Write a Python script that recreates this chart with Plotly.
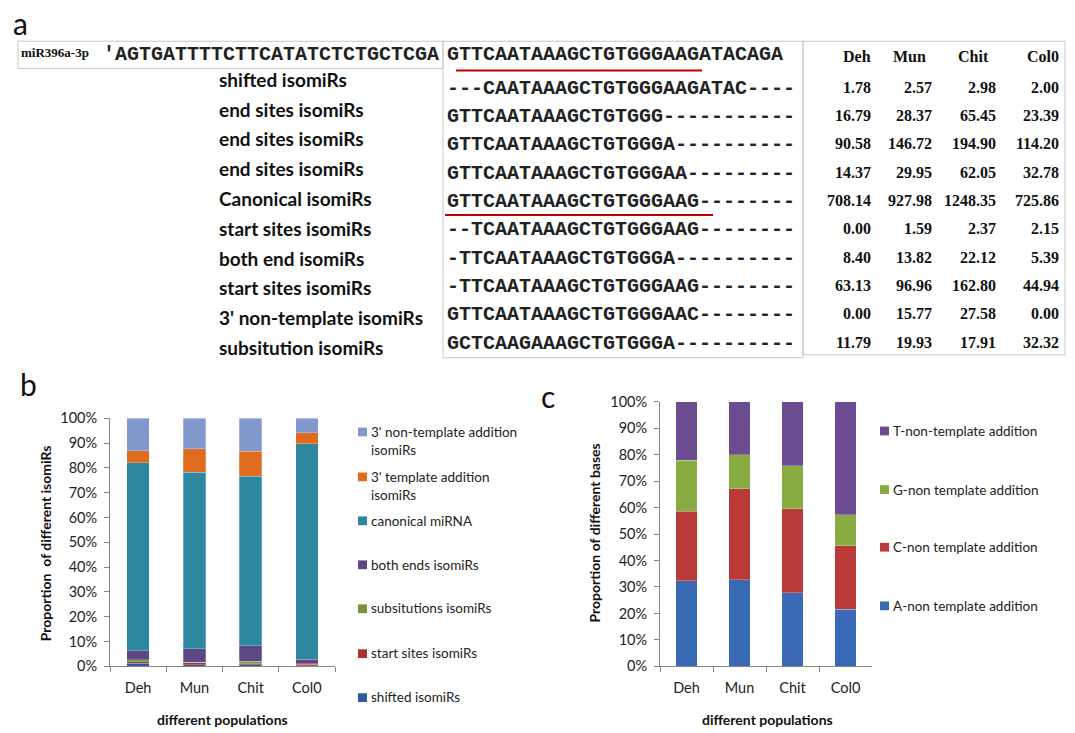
import plotly.graph_objects as go

W, H = 1075, 733

populations = ["Deh", "Mun", "Chit", "Col0"]

# ---- panel a: miR396a-3p isomiR alignment and expression ----
precursor_left = "'AGTGATTTTCTTCATATCTCTGCTCGA"
precursor_right = "GTTCAATAAAGCTGTGGGAAGATACAGA"
isomir_types = [
    "shifted isomiRs", "end sites isomiRs", "end sites isomiRs", "end sites isomiRs",
    "Canonical isomiRs", "start sites isomiRs", "both end isomiRs", "start sites isomiRs",
    "3' non-template isomiRs", "subsitution isomiRs",
]
isomir_seqs = [
    "---CAATAAAGCTGTGGGAAGATAC",
    "GTTCAATAAAGCTGTGGG",
    "GTTCAATAAAGCTGTGGGA",
    "GTTCAATAAAGCTGTGGGAA",
    "GTTCAATAAAGCTGTGGGAAG",
    "--TCAATAAAGCTGTGGGAAG",
    "-TTCAATAAAGCTGTGGGA",
    "-TTCAATAAAGCTGTGGGAAG",
    "GTTCAATAAAGCTGTGGGAAC",
    "GCTCAAGAAAGCTGTGGGA",
]
expr_deh = [1.78, 16.79, 90.58, 14.37, 708.14, 0.00, 8.40, 63.13, 0.00, 11.79]
expr_mun = [2.57, 28.37, 146.72, 29.95, 927.98, 1.59, 13.82, 96.96, 15.77, 19.93]
expr_chit = [2.98, 65.45, 194.90, 62.05, 1248.35, 2.37, 22.12, 162.80, 27.58, 17.91]
expr_col0 = [2.00, 23.39, 114.20, 32.78, 725.86, 2.15, 5.39, 44.94, 0.00, 32.32]

# ---- panel b: proportion of isomiR classes (%) ----
shifted = [1.3, 0.7, 0.7, 0.3]
start_sites = [0.5, 0.7, 0.4, 0.5]
substitutions = [0.8, 0.3, 1.0, 0.3]
both_ends = [3.7, 5.4, 6.2, 1.8]
canonical = [75.7, 71.2, 68.3, 86.9]
template_add = [5.0, 9.5, 10.1, 4.4]
nontemplate_add = [13.0, 12.2, 13.3, 5.8]

# ---- panel c: proportion of added bases (%) ----
base_a = [32.3, 32.8, 27.9, 21.6]
base_c = [26.4, 34.3, 31.6, 23.9]
base_g = [19.1, 12.8, 16.3, 11.8]
base_t = [22.2, 20.1, 24.2, 42.7]


def fx(x):
    return x / W


def fy(y):
    return 1 - y / H


SANS = "Lato"
MONO = "Liberation Mono"
SERIF = "Liberation Serif"

fig = go.Figure()
annotations = []
shapes = []


def text(x, y, s, size, family=SANS, color="#111", xanchor="left", yanchor="middle",
         bold=False, angle=0, align="left"):
    annotations.append(dict(
        x=fx(x), y=fy(y), xref="paper", yref="paper", text=(f"<b>{s}</b>" if bold else s),
        showarrow=False, xanchor=xanchor, yanchor=yanchor, align=align, textangle=angle,
        font=dict(family=family, size=size, color=color), borderpad=0,
    ))


def rect(x0, y0, x1, y1, line="#c8c8c8", fill=None, width=1):
    shapes.append(dict(type="rect", xref="paper", yref="paper",
                       x0=fx(x0), x1=fx(x1), y0=fy(y1), y1=fy(y0),
                       line=dict(color=line, width=width),
                       fillcolor=fill if fill else "rgba(0,0,0,0)"))


def hline(x0, x1, y, color, width):
    shapes.append(dict(type="line", xref="paper", yref="paper",
                       x0=fx(x0), x1=fx(x1), y0=fy(y), y1=fy(y),
                       line=dict(color=color, width=width)))


# panel letters
text(20, 14, "a", 30, xanchor="center")
text(28, 384, "b", 30, xanchor="center")
text(548, 396, "c", 30, xanchor="center")

# alignment boxes
rect(18, 33, 443, 61)
rect(443, 33, 803, 357)
rect(803, 33, 1065, 354)

text(20, 45, "miR396a-3p", 13, family=SERIF, bold=True, color="#111")
text(102, 47, precursor_left, 20, family=MONO, bold=True, color="#222")
text(446, 47, precursor_right, 20, family=MONO, bold=True, color="#222")
hline(456, 702, 63, "#c00000", 2)

SEQ_LEN = 29
for i, (lab, seq) in enumerate(zip(isomir_types, isomir_seqs)):
    text(218, 72 + 30.5 * i, lab, 19, bold=True, color="#111")
    text(446, 81 + 29.0 * i, seq.ljust(SEQ_LEN, "-"), 20, family=MONO, bold=True, color="#222")
hline(445, 713, 211, "#c00000", 2)

# expression table
col_right = [872, 933, 997, 1060]
head_right = [872, 927, 990, 1060]
for name, xr in zip(populations, head_right):
    text(xr, 49, name, 16, family=SERIF, bold=True, xanchor="right")
for col, xr in zip([expr_deh, expr_mun, expr_chit, expr_col0], col_right):
    for i, v in enumerate(col):
        text(xr, 80 + 29.0 * i, f"{v:.2f}", 16, family=SERIF, bold=True, xanchor="right")

# ---- panel b bars ----
b_series = [
    ("shifted isomiRs", shifted, "#2f5a9e"),
    ("start sites isomiRs", start_sites, "#a8322f"),
    ("subsitutions isomiRs", substitutions, "#77933c"),
    ("both ends isomiRs", both_ends, "#5d4785"),
    ("canonical miRNA", canonical, "#2e87a0"),
    ("3' template addition isomiRs", template_add, "#e06c1f"),
    ("3' non-template addition isomiRs", nontemplate_add, "#8199cd"),
]
for name, vals, color in b_series:
    fig.add_trace(go.Bar(x=populations, y=vals, name=name, marker_color=color,
                         marker_line=dict(color="rgba(255,255,255,0.5)", width=0.5),
                         xaxis="x", yaxis="y", showlegend=False))

c_series = [
    ("A-non template addition", base_a, "#3a6ab5"),
    ("C-non template addition", base_c, "#b83b3a"),
    ("G-non template addition", base_g, "#88ac42"),
    ("T-non-template addition", base_t, "#6b4c91"),
]
for name, vals, color in c_series:
    fig.add_trace(go.Bar(x=populations, y=vals, name=name, marker_color=color,
                         marker_line=dict(color="rgba(255,255,255,0.5)", width=0.5),
                         xaxis="x2", yaxis="y2", showlegend=False))

# legends drawn beside each panel
b_legend = [
    ("3' non-template addition<br>isomiRs", 433, "#8199cd"),
    ("3' template addition<br>isomiRs", 479, "#e06c1f"),
    ("canonical miRNA", 524, "#2e87a0"),
    ("both ends isomiRs", 569, "#5d4785"),
    ("subsitutions isomiRs", 614, "#77933c"),
    ("start sites isomiRs", 660, "#a8322f"),
    ("shifted isomiRs", 705, "#2f5a9e"),
]
for lab, y, color in b_legend:
    rect(358, y - 4.5, 367, y + 4.5, line=color, fill=color, width=0)
    text(370, y - 9.5, lab, 13.5, yanchor="top", color="#222")

c_legend = [
    ("T-non-template addition", 432, "#6b4c91"),
    ("G-non template addition", 492, "#88ac42"),
    ("C-non template addition", 551, "#b83b3a"),
    ("A-non template addition", 611, "#3a6ab5"),
]
for lab, y, color in c_legend:
    rect(880, y - 4.5, 889, y + 4.5, line=color, fill=color, width=0)
    text(892, y, lab, 13.5, color="#222")

# axis titles
text(222, 727, "different populations", 14, bold=True, xanchor="center", color="#111")
text(767, 727, "different populations", 14, bold=True, xanchor="center", color="#111")
text(45, 547, "Proportion  of different isomiRs", 14, bold=True, xanchor="center", angle=-90, color="#111")
text(595, 537, "Proportion of different bases", 14, bold=True, xanchor="center", angle=-90, color="#111")

axis_common = dict(showline=True, linecolor="#868686", linewidth=1, ticks="outside",
                   ticklen=5, tickcolor="#868686", showgrid=False, zeroline=False,
                   tickfont=dict(family=SANS, size=14.5, color="#222"), fixedrange=True)

fig.update_layout(
    width=W, height=H,
    margin=dict(l=0, r=0, t=0, b=0),
    paper_bgcolor="white", plot_bgcolor="white",
    barmode="stack", bargap=0.6,
    xaxis=dict(domain=[fx(110), fx(335)], anchor="y", type="category",
               tickson="boundaries", ticklabelstandoff=8, **axis_common),
    yaxis=dict(domain=[fy(673), fy(419)], anchor="x", range=[0, 100], dtick=10,
               ticksuffix="%", ticklabelstandoff=4, **axis_common),
    xaxis2=dict(domain=[fx(660), fx(872)], anchor="y2", type="category",
                tickson="boundaries", ticklabelstandoff=8, **axis_common),
    yaxis2=dict(domain=[fy(673), fy(402)], anchor="x2", range=[0, 100], dtick=10,
                ticksuffix="%", ticklabelstandoff=4, **axis_common),
    annotations=annotations,
    shapes=shapes,
)

fig.write_html("out.html")
